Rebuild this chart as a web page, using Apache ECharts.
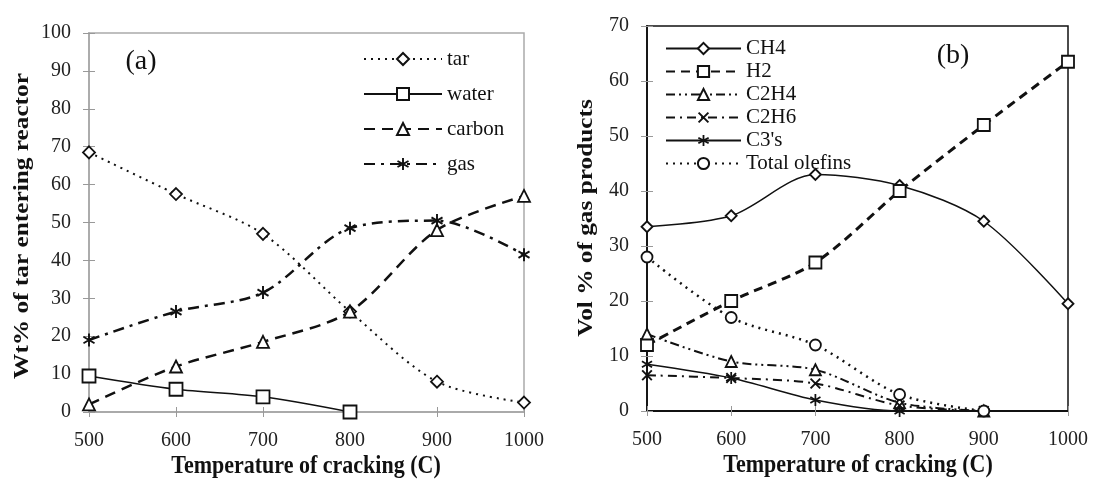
<!DOCTYPE html>
<html><head><meta charset="utf-8">
<script src="https://cdn.jsdelivr.net/npm/echarts@6/dist/echarts.min.js"></script>
<style>html,body{margin:0;padding:0;background:#fff}#c{width:1093px;height:479px}</style>
</head><body><div id="c"></div>
<script>
// ---- data ----
const temps = [500, 600, 700, 800, 900, 1000];
// chart (a): Wt% of tar entering reactor
const tarA = [68.5, 57.5, 47, 26.5, 8, 2.5];
const waterA = [9.5, 6, 4, 0];
const carbonA = [2, 12, 18.5, 26.5, 48, 57];
const gasA = [19, 26.5, 31.5, 48.5, 50.5, 41.5];
const namesA = ['tar', 'water', 'carbon', 'gas'];
// chart (b): Vol % of gas products
const ch4B = [33.5, 35.5, 43, 41, 34.5, 19.5];
const h2B = [12, 20, 27, 40, 52, 63.5];
const c2h4B = [14, 9, 7.5, 1.5, 0];
const c2h6B = [6.5, 6, 5, 1, 0];
const c3sB = [8.5, 6, 2, 0, 0];
const olefinsB = [28, 17, 12, 3, 0];
const namesB = ['CH4', 'H2', 'C2H4', 'C2H6', "C3's", 'Total olefins'];

const SERIF = "'Liberation Serif','DejaVu Serif',serif";
const ASTER = 'path://M-1.5,-10L1.5,-10L1.5,10L-1.5,10Z M-9.41,-3.7L-7.91,-6.3L9.41,3.7L7.91,6.3Z M7.91,-6.3L9.41,-3.7L-7.91,6.3L-9.41,3.7Z';
const XMARK = 'path://M-8.06,-6.08L-6.08,-8.06L8.06,6.08L6.08,8.06Z M6.08,-8.06L8.06,-6.08L-6.08,8.06L-8.06,6.08Z';

function mk(name, ys, gi, symbol, size, type, width, filled) {
  return {
    name: name, type: 'line', xAxisIndex: gi * 2, yAxisIndex: gi * 2,
    data: ys.map((v, i) => [temps[i], v]),
    smooth: 0.3, symbol: symbol, symbolSize: size, showSymbol: true,
    lineStyle: { color: '#111', width: width, type: type },
    itemStyle: filled ? { color: '#111', borderWidth: 0 } : { color: '#fff', borderColor: '#111', borderWidth: 1.8 },
    emphasis: { disabled: true }, animation: false, z: 3
  };
}

function axesFor(gi, ymax, lineColor) {
  const lab = { fontFamily: SERIF, fontSize: 20, color: '#222', formatter: v => String(v) };
  const x = [
    { type: 'value', gridIndex: gi, min: 500, max: 1000, interval: 100, position: 'bottom',
      axisLine: { show: true, lineStyle: { color: lineColor, width: 1.8 } },
      axisTick: { show: true, length: 5, lineStyle: { color: '#999' } },
      axisLabel: Object.assign({ margin: 19 }, lab), splitLine: { show: false } },
    { type: 'value', gridIndex: gi, min: 500, max: 1000, interval: 100, position: 'bottom',
      axisLine: { show: false }, axisTick: { show: true, inside: true, length: 5, lineStyle: { color: '#999' } },
      axisLabel: { show: false }, splitLine: { show: false } }
  ];
  const y = [
    { type: 'value', gridIndex: gi, min: 0, max: ymax, interval: 10, position: 'left',
      axisLine: { show: true, lineStyle: { color: lineColor, width: 1.8 } },
      axisTick: { show: true, length: 6, lineStyle: { color: '#999' } },
      axisLabel: Object.assign({ margin: 18 }, lab), splitLine: { show: false } },
    { type: 'value', gridIndex: gi, min: 0, max: ymax, interval: 10, position: 'left',
      axisLine: { show: false }, axisTick: { show: true, inside: true, length: 6, lineStyle: { color: '#999' } },
      axisLabel: { show: false }, splitLine: { show: false } }
  ];
  return { x, y };
}

const aA = axesFor(0, 100, '#aaa');
const aB = axesFor(1, 70, '#111');

const legendText = { fontFamily: SERIF, fontSize: 21, color: '#111' };

function txt(text, x, y, size, bold, rot, sx, sy) {
  return { type: 'text', x: x, y: y, rotation: rot || 0, scaleX: sx || 1, scaleY: sy || 1, z: 10,
    style: { text: text, font: (bold ? 'bold ' : '') + size + 'px ' + SERIF, fill: '#111',
      textAlign: 'center', textVerticalAlign: 'middle' } };
}

const option = {
  animation: false,
  backgroundColor: '#fff',
  grid: [
    { left: 89, top: 33, width: 435, height: 379, show: true, borderColor: '#aaa', borderWidth: 1.5, backgroundColor: 'transparent' },
    { left: 647, top: 26, width: 421, height: 385, show: true, borderColor: '#111', borderWidth: 1.5, backgroundColor: 'transparent' }
  ],
  xAxis: aA.x.concat(aB.x),
  yAxis: aA.y.concat(aB.y),
  legend: [
    { data: namesA, orient: 'vertical', left: 358, top: 43, itemWidth: 78, itemHeight: 15, itemGap: 13,
      selectedMode: false, textStyle: Object.assign({ lineHeight: 22 }, legendText) },
    { data: namesB, orient: 'vertical', left: 660, top: 33, itemWidth: 75, itemHeight: 14, itemGap: 2,
      selectedMode: false, textStyle: Object.assign({ lineHeight: 21 }, legendText) }
  ],
  graphic: [
    txt('(a)', 141, 62, 28, false),
    txt('(b)', 953, 56, 28, false),
    txt('Wt% of tar entering reactor', 22, 226, 22, true, Math.PI / 2, 1.15, 1),
    txt('Vol % of gas products', 586, 218, 22, true, Math.PI / 2, 1.15, 1),
    txt('Temperature of cracking (C)', 306, 467, 22, true, 0, 1, 1.1),
    txt('Temperature of cracking (C)', 858, 466, 22, true, 0, 1, 1.1)
  ],
  series: [
    mk('tar', tarA, 0, 'diamond', 12, [2, 5], 2, false),
    mk('water', waterA, 0, 'rect', 13, 'solid', 1.5, false),
    mk('carbon', carbonA, 0, 'triangle', 12, [11, 7], 2.5, false),
    mk('gas', gasA, 0, ASTER, [12, 13], [11, 6, 3, 6], 2.5, true),
    mk('CH4', ch4B, 1, 'diamond', 11, 'solid', 1.5, false),
    mk('H2', h2B, 1, 'rect', 12, [9, 6], 3, false),
    mk('C2H4', c2h4B, 1, 'triangle', 11, [9, 4, 2, 4, 2, 4], 2, false),
    mk('C2H6', c2h6B, 1, XMARK, 11, [9, 5, 2, 5], 2, true),
    mk("C3's", c3sB, 1, ASTER, [11, 12], 'solid', 1.5, true),
    mk('Total olefins', olefinsB, 1, 'circle', 11, [2, 5], 2.5, false)
  ]
};

const chart = echarts.init(document.getElementById('c'), null, { renderer: 'canvas' });
chart.setOption(option);
</script>
</body></html>
